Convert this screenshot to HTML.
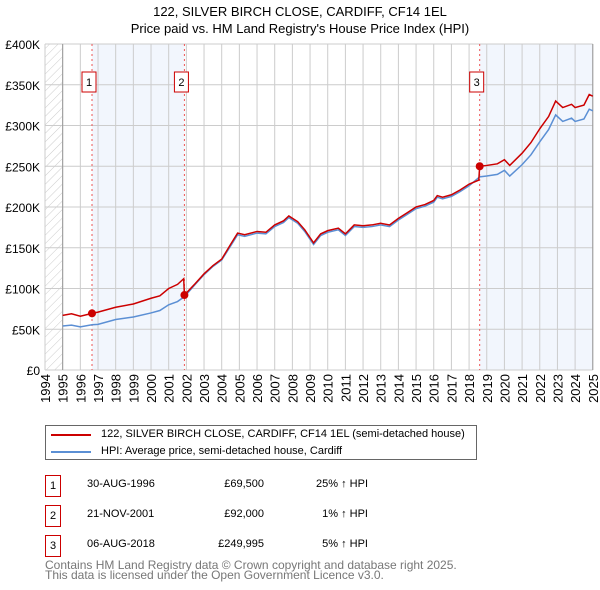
<!DOCTYPE html>
<html><head><meta charset="utf-8"><style>
body{margin:0;width:600px;height:590px;background:#fff;font-family:"Liberation Sans","DejaVu Sans",sans-serif;overflow:hidden;position:relative}
.t{position:absolute;font-size:11px;color:#000;white-space:nowrap}
</style></head><body>
<div class="t" style="left:0;width:600px;text-align:center;top:3px;font-size:13px;line-height:17px">122, SILVER BIRCH CLOSE, CARDIFF, CF14 1EL<br>Price paid vs. HM Land Registry's House Price Index (HPI)</div>
<svg id="c" width="600" height="420" style="position:absolute;left:0;top:0"></svg>
<div style="position:absolute;left:45px;top:425px;width:432px;height:35px;border:1px solid #666;box-sizing:border-box">
 <div style="position:absolute;left:5px;top:8px;width:40px;height:2px;background:#c00"></div>
 <div class="t" style="left:55px;top:2px">122, SILVER BIRCH CLOSE, CARDIFF, CF14 1EL (semi-detached house)</div>
 <div style="position:absolute;left:5px;top:25px;width:40px;height:2px;background:#5b8fd4"></div>
 <div class="t" style="left:55px;top:19px">HPI: Average price, semi-detached house, Cardiff</div>
</div>
<div id="tbl"></div>
<div class="t" style="left:45px;top:560px;color:#777;font-size:12px;line-height:10px">Contains HM Land Registry data © Crown copyright and database right 2025.<br>This data is licensed under the Open Government Licence v3.0.</div>
<script>
const hpiX=[1995,1995.5,1996,1996.66,1997,1998,1999,2000,2000.5,2001,2001.5,2001.89,2002.5,2003,2003.5,2004,2004.5,2004.9,2005.3,2006,2006.5,2007,2007.5,2007.8,2008.3,2008.7,2009.2,2009.6,2010,2010.6,2011,2011.5,2012,2012.5,2013,2013.5,2014,2014.5,2015,2015.5,2016,2016.2,2016.5,2017,2017.5,2018,2018.6,2019,2019.6,2020,2020.3,2021,2021.5,2022,2022.5,2022.9,2023.3,2023.8,2024,2024.5,2024.8,2025];
const hpiY=[54,55,53,55.5,56,62,65,70,73,80,84,90,105,117,127,135,152,166,164,168,167,176,181,187,180,170,154,165,169,172,165,176,175,176,178,176,184,191,198,201,206,212,210,213,219,226,237,238,240,245,238,252,264,280,295,313,305,309,305,308,320,318];
const redX=[1995,1995.5,1996,1996.66,1997,1998,1999,2000,2000.5,2001,2001.5,2001.85,2001.89,2002.5,2003,2003.5,2004,2004.5,2004.9,2005.3,2006,2006.5,2007,2007.5,2007.8,2008.3,2008.7,2009.2,2009.6,2010,2010.6,2011,2011.5,2012,2012.5,2013,2013.5,2014,2014.5,2015,2015.5,2016,2016.2,2016.5,2017,2017.5,2018,2018.55,2018.6,2019,2019.6,2020,2020.3,2021,2021.5,2022,2022.5,2022.9,2023.3,2023.8,2024,2024.5,2024.8,2025];
const redY=[67,69,66,69.5,71,77,81,88,91,100,105,112,92,106,118,128,136,154,168,166,170,169,178,183,189,182,172,156,167,171,174,167,178,177,178,180,178,186,193,200,203,208,214,212,215,221,228,233,250,251,253,258,251,266,279,296,311,330,322,326,322,325,338,336];
const sales=[{n:"1",x:1996.66,y:69.5,d:"30-AUG-1996",p:"£69,500",h:"25% ↑ HPI"},{n:"2",x:2001.89,y:92,d:"21-NOV-2001",p:"£92,000",h:"1% ↑ HPI"},{n:"3",x:2018.6,y:249.995,d:"06-AUG-2018",p:"£249,995",h:"5% ↑ HPI"}];
const yTicks=[0,50,100,150,200,250,300,350,400];
const xYears=[];for(let y=1994;y<=2025;y++)xYears.push(y);
const X=v=>45+(v-1994)*17.67, Y=v=>370-v*0.815;
const s=document.getElementById('c');const NS='http://www.w3.org/2000/svg';
function mk(t,a,p){const e=document.createElementNS(NS,t);for(const k in a)e.setAttribute(k,a[k]);(p||s).appendChild(e);return e;}
const defs=mk('defs',{});const pat=mk('pattern',{id:'h',width:6,height:6,patternUnits:'userSpaceOnUse',patternTransform:'rotate(45)'},defs);mk('line',{x1:0,y1:0,x2:0,y2:6,stroke:'#ccc','stroke-width':1},pat);
let e=mk('rect',{x:X(1994),y:Y(400),width:X(1995)-X(1994),height:Y(0)-Y(400),fill:'url(#h)'});
e=mk('rect',{x:X(sales[0].x),y:Y(400),width:X(sales[1].x)-X(sales[0].x),height:Y(0)-Y(400),fill:'#f2f6fd'});
e=mk('rect',{x:X(sales[2].x),y:Y(400),width:X(2025)-X(sales[2].x),height:Y(0)-Y(400),fill:'#f2f6fd'});
yTicks.forEach(v=>{mk('line',{x1:X(1994),x2:X(2025),y1:Y(v),y2:Y(v),stroke:'#ccc'});const t=mk('text',{x:40,y:Y(v)+5,'text-anchor':'end','font-size':12});t.textContent='£'+(v?v+'K':'0');});
xYears.forEach(v=>{mk('line',{x1:X(v),x2:X(v),y1:Y(400),y2:Y(0),stroke:'#ccc'});const t=mk('text',{transform:`translate(${X(v)+5},374) rotate(-90)`,'text-anchor':'end','font-size':13});t.textContent=v;});
mk('line',{x1:X(1995),x2:X(1995),y1:Y(400),y2:Y(0),stroke:'#999'});
mk('line',{x1:X(2025),x2:X(2025),y1:Y(400),y2:Y(0),stroke:'#999'});
sales.forEach(o=>{mk('line',{x1:X(o.x),x2:X(o.x),y1:Y(400),y2:Y(0),stroke:'#e55','stroke-dasharray':'2,3'});const b=mk('rect',{x:X(o.x)-10,y:72,width:14,height:20,fill:'#fff',stroke:'#c00'});const t=mk('text',{x:X(o.x)-3,y:86,'text-anchor':'middle','font-size':11});t.textContent=o.n;});
e=mk('polyline',{points:hpiX.map((x,i)=>X(x)+','+Y(hpiY[i])).join(' '),fill:'none',stroke:'#5b8fd4','stroke-width':1.5});
e=mk('polyline',{points:redX.map((x,i)=>X(x)+','+Y(redY[i])).join(' '),fill:'none',stroke:'#c00','stroke-width':1.5});
sales.forEach(o=>{const c=mk('circle',{cx:X(o.x),cy:Y(o.y),r:4,fill:'#c00'});});
const tb=document.getElementById('tbl');
sales.forEach((o,i)=>{const top=475+i*30;tb.insertAdjacentHTML('beforeend',
`<div><div class="t" style="left:45px;top:${top}px;width:14px;height:20px;border:1px solid #c00;text-align:center;line-height:20px">${o.n}</div>
<div class="t" style="left:87px;top:${top+3}px">${o.d}</div><div class="t" style="left:190px;width:74px;text-align:right;top:${top+3}px">${o.p}</div><div class="t" style="left:290px;width:78px;text-align:right;top:${top+3}px">${o.h}</div></div>`);});
</script>
</body></html>
